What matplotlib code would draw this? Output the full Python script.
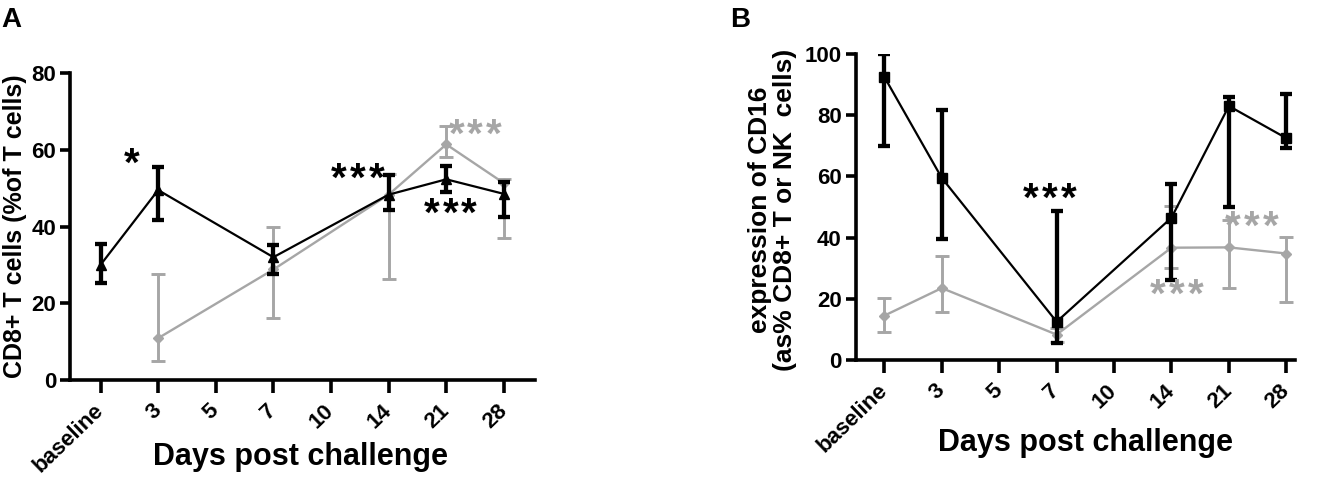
import numpy as np
import matplotlib
matplotlib.use("Agg")
import matplotlib.pyplot as plt

plt.rcParams["font.family"] = ["Liberation Sans", "DejaVu Sans"]
plt.rcParams["font.weight"] = "bold"

days = ["baseline", "3", "5", "7", "10", "14", "21", "28"]
gray = "#a6a6a6"

# panel A: CD8+ T cells (% of T cells)
a_black_x = [0, 1, 3, 5, 6, 7]
a_black = [30, 49.5, 32, 48.3, 52.3, 48.5]
a_black_lo = [25.2, 41.8, 27.5, 44.4, 49.0, 42.5]
a_black_hi = [35.5, 55.4, 35.2, 53.5, 55.7, 51.7]

a_gray_x = [1, 3, 5, 6, 7]
a_gray = [10.9, 28.8, 48.3, 61.4, 51.3]
a_gray_lo = [5.0, 16.2, 26.4, 58.2, 37.0]
a_gray_hi = [27.5, 39.8, 53.8, 66.2, 52.5]

# panel B: expression of CD16
b_x = [0, 1, 3, 5, 6, 7]
b_black = [92.5, 59.5, 12.5, 46.5, 83.0, 72.5]
b_black_lo = [70.0, 39.5, 5.5, 26.2, 50.0, 69.3]
b_black_hi = [100.0, 81.7, 48.7, 57.4, 86.0, 86.8]

b_gray = [14.5, 23.5, 8.3, 36.7, 36.8, 34.8]
b_gray_lo = [9.2, 15.8, 6.0, 30.0, 23.4, 18.9]
b_gray_hi = [20.4, 34.0, 10.5, 50.2, 45.8, 40.3]

# significance marks (x position, y, number of stars, colour)
a_stars = [(0.54, 59, 1, "black"), (4.46, 55.2, 3, "black"),
           (6.07, 46, 3, "black"), (6.5, 66.5, 3, gray)]
b_stars = [(2.88, 56, 3, "black"), (6.4, 46.8, 3, gray),
           (5.09, 24.5, 3, gray)]


def errs(v, lo, hi):
    v = np.array(v)
    return [v - np.array(lo), np.array(hi) - v]


def style(ax, ymax, step):
    for s in ["top", "right"]:
        ax.spines[s].set_visible(False)
    for s in ["left", "bottom"]:
        ax.spines[s].set_linewidth(2.6)
    ax.set_ylim(0, ymax)
    ax.set_yticks(np.arange(0, ymax + 1, step))
    ax.set_xticks(range(len(days)))
    ax.set_xticklabels(days, rotation=44, ha="right", va="center",
                       rotation_mode="anchor")
    ax.tick_params(width=2.6, labelsize=16)
    ax.tick_params(axis="y", length=7, pad=3)
    ax.tick_params(axis="x", length=9, pad=11)


def stars(ax, marks):
    # draw each star on its own, GraphPad spaces them wider than the font does
    for x, y, n, c in marks:
        for i in range(n):
            dx = (i - (n - 1) / 2) * 13.5
            ax.annotate("*", (x, y), xytext=(dx, -8), textcoords="offset points",
                        fontsize=29, ha="center", va="center", color=c)


fig = plt.figure(figsize=(13.18, 4.8), dpi=100)
axA = fig.add_axes([0.0531, 0.2083, 0.3528, 0.6396])
axB = fig.add_axes([0.6492, 0.25, 0.3333, 0.6375])

# A
axA.errorbar(a_gray_x, a_gray, yerr=errs(a_gray, a_gray_lo, a_gray_hi), color=gray,
             lw=1.7, elinewidth=2.1, capsize=4.8, capthick=2.1, marker="D", ms=5.5, zorder=2)
axA.errorbar(a_black_x, a_black, yerr=errs(a_black, a_black_lo, a_black_hi), color="black",
             lw=1.6, elinewidth=3.1, capsize=4.3, capthick=3.1, marker="^", ms=7.5, zorder=3)
style(axA, 80, 20)
axA.set_xlim(-0.53, 7.54)
axA.set_ylabel("CD8+ T cells (%of T cells)", fontsize=18, fontweight="bold",
               ha="center", va="center")
axA.yaxis.set_label_coords(-0.118, 0.5)
axA.set_xlabel("Days post challenge", fontsize=22, fontweight="bold", va="center")
axA.xaxis.set_label_coords(0.495, -0.251)
stars(axA, a_stars)

# B
axB.errorbar(b_x, b_gray, yerr=errs(b_gray, b_gray_lo, b_gray_hi), color=gray,
             lw=1.7, elinewidth=2.1, capsize=4.8, capthick=2.1, marker="D", ms=5.5, zorder=2)
axB.errorbar(b_x, b_black, yerr=errs(b_black, b_black_lo, b_black_hi), color="black",
             lw=1.6, elinewidth=3.1, capsize=4.3, capthick=3.1, marker="s", ms=7.5, zorder=3)
style(axB, 100, 20)
axB.set_xlim(-0.5, 7.15)
axB.set_ylabel("expression of CD16\n(as% CD8+ T or NK  cells)", fontsize=19,
               fontweight="bold", ha="center", va="center", linespacing=1.05)
axB.yaxis.set_label_coords(-0.19, 0.49)
axB.set_xlabel("Days post challenge", fontsize=22, fontweight="bold", va="center")
axB.xaxis.set_label_coords(0.524, -0.271)
stars(axB, b_stars)

fig.text(0.001, 0.985, "A", fontsize=20, fontweight="bold", va="top")
fig.text(0.554, 0.985, "B", fontsize=20, fontweight="bold", va="top")

fig.savefig("out.png", dpi=100)
